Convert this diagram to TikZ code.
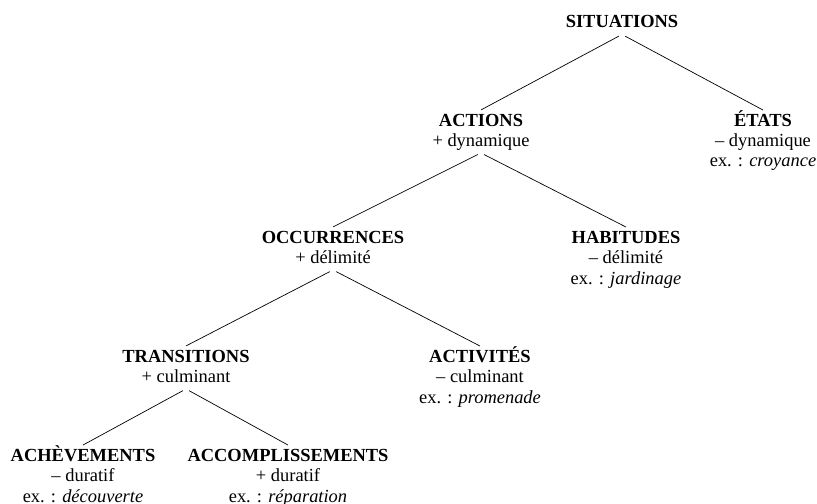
\documentclass[tikz,border=0pt]{standalone}
\usepackage{fontspec}
\setmainfont{Liberation Serif}

\newcommand{\titre}[1]{\textbf{#1}\vphantom{É}}

\begin{document}
\begin{tikzpicture}
	% Styles
	\tikzset{
		categorie/.style={align=center, inner sep=0pt, anchor=base, font=\fontsize{10.5}{11.6}\selectfont},
		branche/.style={shorten <=2pt}
	}
	\useasboundingbox (0,0) rectangle (16.34,-10.08);
	
	% Niveau 1
	\node[categorie] (sit) at (12.44,-0.56) {\titre{SITUATIONS}\strut};
	
	% Niveau 2
	\node[categorie] (act) at (9.62,-2.93) {\titre{ACTIONS}\\+ dynamique\strut};
	\node[categorie] (eta) at (15.26,-3.34) {\titre{ÉTATS}\\– dynamique\\ex. : \textit{croyance}};
	
	% Niveau 3
	\node[categorie] (occ) at (6.66,-5.27) {\titre{OCCURRENCES}\\+ délimité\strut};
	\node[categorie] (hab) at (12.52,-5.68) {\titre{HABITUDES}\\– délimité\\ex. : \textit{jardinage}};
	
	% Niveau 4
	\node[categorie] (tra) at (3.72,-7.65) {\titre{TRANSITIONS}\\+ culminant\strut};
	\node[categorie] (acv) at (9.60,-8.06) {\titre{ACTIVITÉS}\\– culminant\\ex. : \textit{promenade}};
	
	% Niveau 5
	\node[categorie] (ach) at (1.66,-10.04) {\titre{ACHÈVEMENTS}\\– duratif\\ex. : \textit{découverte}};
	\node[categorie] (acc) at (5.76,-10.04) {\titre{ACCOMPLISSEMENTS}\\+ duratif\\ex. : \textit{réparation}};
	
	% Branches
	\draw[branche] (sit.south) -- (act.north);
	\draw[branche] (sit.south) -- (eta.north);
	\draw[branche] (act.south) -- (occ.north);
	\draw[branche] (act.south) -- (hab.north);
	\draw[branche] (occ.south) -- (tra.north);
	\draw[branche] (occ.south) -- (acv.north);
	\draw[branche] (tra.south) -- (ach.north);
	\draw[branche] (tra.south) -- (acc.north);
\end{tikzpicture}
\end{document}
